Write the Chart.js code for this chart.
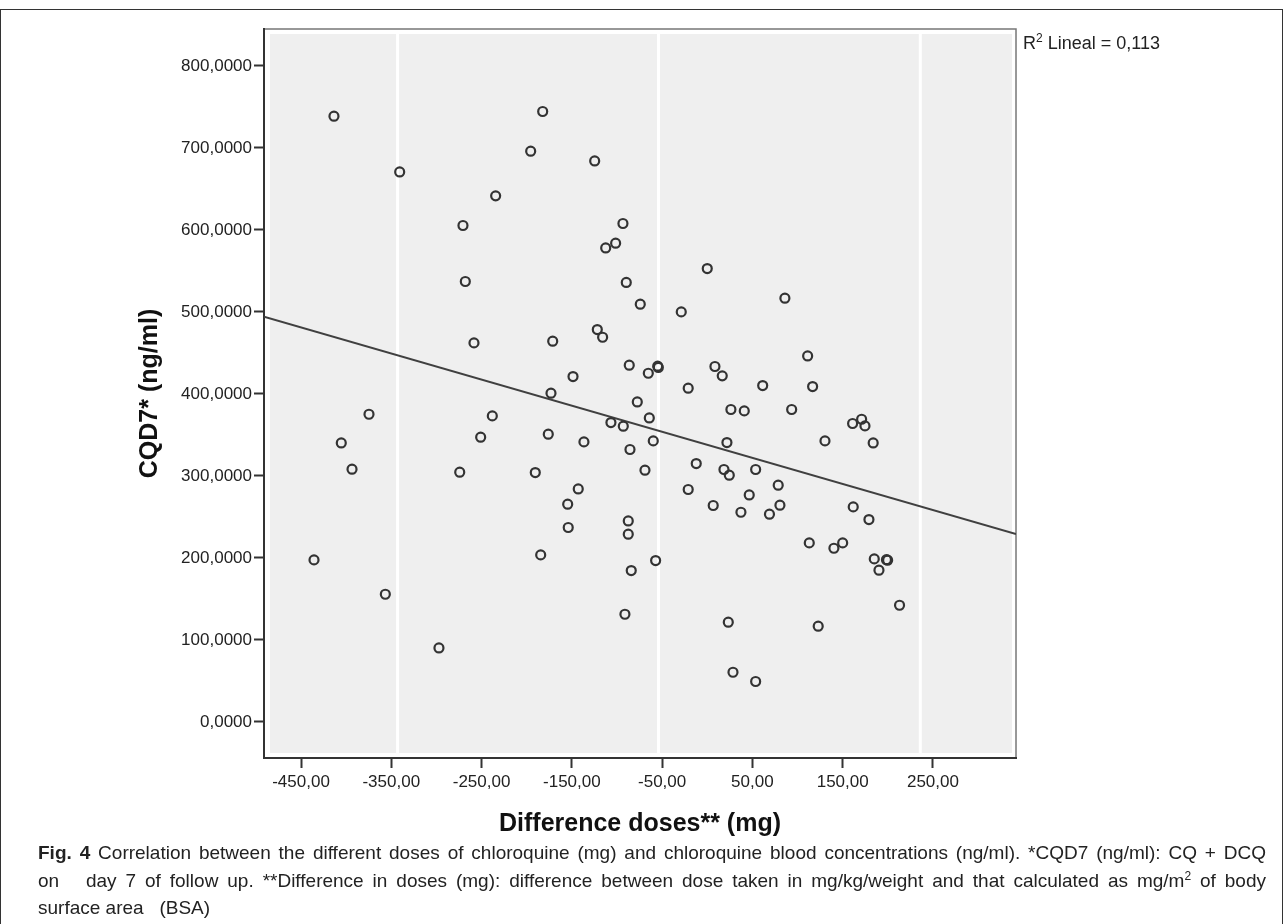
<!DOCTYPE html>
<html>
<head>
<meta charset="utf-8">
<script src="https://cdn.jsdelivr.net/npm/chart.js@4.4.1/dist/chart.umd.min.js"></script>
<style>
  body { margin: 0; background: #fff; font-family: "Liberation Sans", Arial, sans-serif; }
  #frame { position: absolute; left: 0; top: 9px; width: 1281px; height: 930px; border: 1px solid #333; border-bottom: none; }
  #chartBox { position: absolute; left: 0; top: 0; width: 1285px; height: 845px; }
  #r2 { position: absolute; left: 1023px; top: 31px; font-size: 18px; color: #222; white-space: nowrap; }
  #r2 sup { font-size: 12px; }
  #caption { position: absolute; left: 38px; top: 839px; width: 1228px; font-size: 19px; line-height: 27.5px; color: #222; }
  #caption .j { text-align: justify; text-align-last: justify; }
  #caption sup { font-size: 12px; line-height: 0; }
</style>
</head>
<body>
<div id="frame"></div>
<div id="chartBox"><canvas id="scatter" width="1285" height="845"></canvas></div>
<div id="r2"></div>
<div id="caption">
  <div class="j"><b>Fig. 4</b> Correlation between the different doses of chloroquine (mg) and chloroquine blood concentrations (ng/ml). *CQD7 (ng/ml): CQ + DCQ</div>
  <div class="j">on &nbsp;&nbsp;day 7 of follow up. **Difference in doses (mg): difference between dose taken in mg/kg/weight and that calculated as mg/m<sup>2</sup> of body</div>
  <div>surface area &nbsp;&nbsp;(BSA)</div>
</div>
<script>
// Difference doses (mg) vs CQD7 (ng/ml)
const doseDiff = [
  -413.5, -340.7, -234.4, -270.6, -268.0, -258.4, -182.3, -195.6, -124.7, -93.4,
  -112.5, -101.5, -89.7, -74.2, 0.0, -28.8, -171.2, -121.8, -115.9, -86.4,
  -65.3, -54.9, -54.2, -148.7, -173.1, -21.1, 8.5, 16.6, 61.4, -77.5,
  86.0, 111.2, 116.7, -374.7, -405.4, -393.5, -435.6, -356.6, -297.2, -238.1,
  -251.0, -274.2, -64.2, -106.7, -93.0, -176.1, -136.6, -59.8, -85.6, -69.0,
  -190.5, -142.9, -154.6, -154.0, -87.5, -87.5, -184.5, -84.2, -57.2, -91.2,
  26.2, 41.0, 21.8, -12.2, 18.5, 24.4, 53.6, -21.1, 6.6, 46.5,
  37.3, 68.9, 78.6, 23.3, 28.5, 53.6, 93.5, 161.0, 171.0, 174.7,
  183.8, 130.4, 80.5, 161.7, 179.1, 113.0, 140.3, 150.0, 185.0, 199.8,
  198.5, 190.2, 213.0, 122.9
];
const cqd7 = [
  738.7, 670.7, 641.5, 605.4, 537.1, 462.2, 744.4, 696.0, 684.1, 607.8,
  578.0, 583.8, 535.9, 509.4, 552.9, 500.0, 464.3, 478.5, 469.1, 435.0,
  425.2, 433.8, 432.2, 421.2, 400.9, 407.0, 433.4, 422.0, 410.2, 390.2,
  516.7, 446.3, 409.0, 375.2, 340.2, 308.2, 197.6, 155.7, 90.2, 373.2,
  347.2, 304.5, 370.7, 365.1, 360.6, 350.9, 341.5, 342.7, 332.2, 307.0,
  304.1, 284.1, 265.5, 237.1, 245.1, 228.9, 203.7, 184.6, 196.8, 131.3,
  381.0, 379.3, 340.7, 315.1, 307.8, 300.9, 307.8, 283.4, 263.9, 276.8,
  255.7, 253.3, 288.7, 121.6, 60.6, 49.3, 381.0, 363.9, 369.1, 361.0,
  340.2, 342.7, 264.3, 262.2, 246.8, 218.3, 211.8, 218.3, 198.8, 197.2,
  197.8, 185.0, 142.3, 116.7
];
const xTickValues = [-450, -350, -250, -150, -50, 50, 150, 250];
const yTickValues = [0, 100, 200, 300, 400, 500, 600, 700, 800];
const gridLineValues = [-343, -54, 236];
const xRange = [-491, 342];
const yRange = [-44, 845];
// fitted line as printed (R2 Lineal)
const fitIntercept = 338;
const fitSlope = -0.318;
const r2Value = 0.113;

const fontFamily = '"Liberation Sans", Arial, sans-serif';

document.getElementById("r2").innerHTML =
  "R<sup>2</sup> Lineal = " + r2Value.toFixed(3).replace(".", ",");

const points = doseDiff.map((x, i) => ({ x: x, y: cqd7[i] }));
const fitLine = xRange.map((x) => ({ x: x, y: fitIntercept + fitSlope * x }));

// grey panel with white inset border and the white vertical guide lines
const panelPlugin = {
  id: "panel",
  beforeDraw(chart) {
    const { ctx, chartArea: a, scales } = chart;
    ctx.save();
    ctx.fillStyle = "#ffffff";
    ctx.fillRect(a.left, a.top, a.width, a.height);
    ctx.fillStyle = "#efefef";
    ctx.fillRect(a.left + 6, a.top + 5, a.width - 10, a.height - 10);
    ctx.strokeStyle = "#ffffff";
    ctx.lineWidth = 3;
    gridLineValues.forEach((v) => {
      const px = scales.x.getPixelForValue(v);
      ctx.beginPath();
      ctx.moveTo(px, a.top + 5);
      ctx.lineTo(px, a.bottom - 5);
      ctx.stroke();
    });
    ctx.strokeStyle = "#777";
    ctx.lineWidth = 1.5;
    ctx.strokeRect(a.left, a.top, a.width, a.height);
    ctx.restore();
  },
};

const ctx = document.getElementById("scatter").getContext("2d");
const chart = new Chart(ctx, {
  type: "scatter",
  data: {
    datasets: [
      {
        label: "CQD7",
        data: points,
        pointStyle: "circle",
        pointRadius: 4.5,
        pointHoverRadius: 4.5,
        borderWidth: 2.2,
        borderColor: "#333333",
        backgroundColor: "rgba(0,0,0,0)",
      },
      {
        type: "line",
        label: "Lineal",
        data: fitLine,
        borderColor: "#404040",
        borderWidth: 2,
        pointRadius: 0,
        fill: false,
      },
    ],
  },
  options: {
    responsive: false,
    devicePixelRatio: 1,
    animation: false,
    layout: { padding: { left: 0, top: 29, right: 269, bottom: 0 } },
    plugins: { legend: { display: false }, tooltip: { enabled: false } },
    scales: {
      x: {
        type: "linear",
        min: xRange[0],
        max: xRange[1],
        afterBuildTicks: (s) => {
          s.ticks = xTickValues.map((v) => ({ value: v }));
        },
        afterFit: (s) => {
          s.height = 87;
        },
        grid: { drawOnChartArea: false, drawTicks: true, tickLength: 10, tickColor: "#333", tickWidth: 2 },
        border: { display: true, color: "#333", width: 2 },
        ticks: {
          color: "#222",
          font: { size: 17, family: fontFamily },
          padding: 4,
          maxRotation: 0,
          autoSkip: false,
          callback: (v) => v.toFixed(2).replace(".", ","),
        },
        title: {
          display: true,
          text: "Difference doses** (mg)",
          color: "#111",
          font: { size: 25, weight: "bold", family: fontFamily },
          padding: { top: 0, bottom: 6 },
        },
      },
      y: {
        type: "linear",
        min: yRange[0],
        max: yRange[1],
        afterBuildTicks: (s) => {
          s.ticks = yTickValues.map((v) => ({ value: v }));
        },
        afterFit: (s) => {
          s.width = 264;
        },
        grid: { drawOnChartArea: false, drawTicks: true, tickLength: 10, tickColor: "#333", tickWidth: 2 },
        border: { display: true, color: "#333", width: 2 },
        ticks: {
          color: "#222",
          font: { size: 17, family: fontFamily },
          padding: 2,
          autoSkip: false,
          callback: (v) => v.toFixed(4).replace(".", ","),
        },
        title: {
          display: true,
          text: "CQD7* (ng/ml)",
          color: "#111",
          font: { size: 25, weight: "bold", family: fontFamily },
          padding: { top: 135, bottom: 0 },
        },
      },
    },
  },
  plugins: [panelPlugin],
});
</script>
</body>
</html>
